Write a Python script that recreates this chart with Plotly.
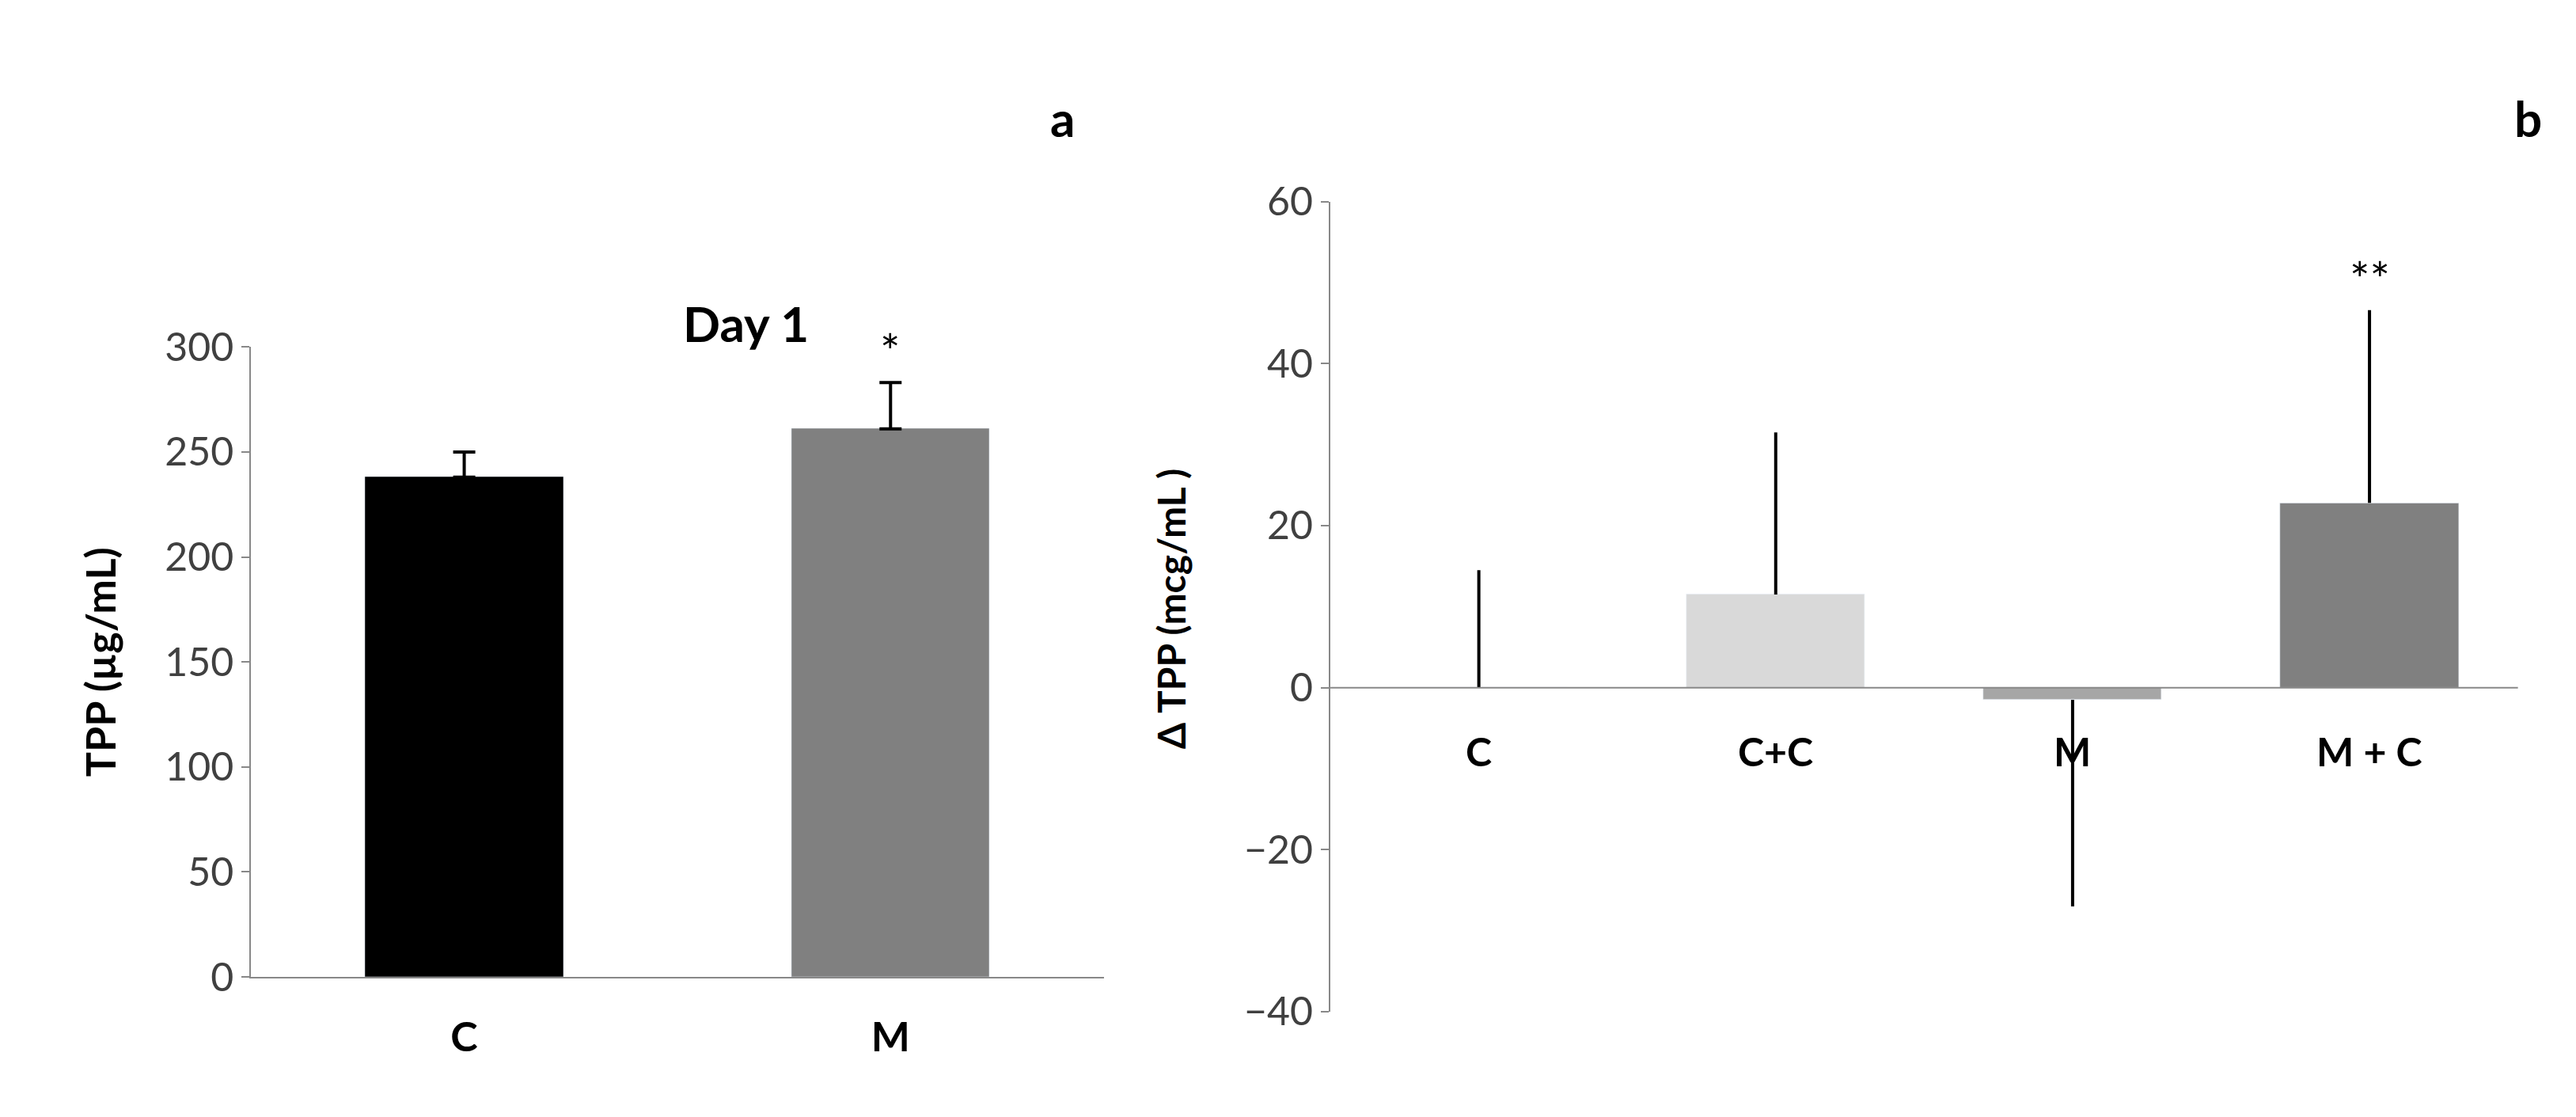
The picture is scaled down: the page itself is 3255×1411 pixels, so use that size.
import plotly.graph_objects as go

a_cats = ["C", "M"]
a_vals = [238, 261]
a_err = [12, 22]
a_colors = ["#000000", "#808080"]

b_cats = ["C", "C+C", "M", "M + C"]
b_vals = [0, 11.5, -1.5, 22.8]
b_err_plus = [14.5, 20, 0, 23.8]
b_err_minus = [0, 0, 25.5, 0]
b_colors = ["#808080", "#d9d9d9", "#a6a6a6", "#808080"]

F = "Lato"
fig = go.Figure()
fig.add_trace(go.Bar(x=a_cats, y=a_vals, marker_color=a_colors, width=0.465,
                     error_y=dict(type="data", array=a_err, arrayminus=[0, 0], color="black", thickness=4, width=14),
                     xaxis="x", yaxis="y", showlegend=False))
fig.add_trace(go.Bar(x=b_cats, y=b_vals, marker_color=b_colors, width=0.6,
                     error_y=dict(type="data", array=b_err_plus, arrayminus=b_err_minus, color="black", thickness=4, width=0),
                     xaxis="x2", yaxis="y2", showlegend=False))

axl = dict(showline=True, linecolor="#888888", linewidth=2, showgrid=False, zeroline=False)
fig.update_layout(
    width=3255, height=1411, margin=dict(l=0, r=0, t=0, b=0),
    plot_bgcolor="white", paper_bgcolor="white", font=dict(family=F, color="#404040", size=50),
    xaxis=dict(domain=[0.095, 0.426], anchor="y", tickfont=dict(size=52, color="black", family=F),
               tickprefix="<b>", ticksuffix="</b>", ticks="", ticklabelstandoff=30, **axl),
    yaxis=dict(domain=[0.1155, 0.705], range=[0, 300], dtick=50, ticks="outside", ticklen=10,
               tickcolor="#888888", tickwidth=2, **axl),
    xaxis2=dict(domain=[0.514, 0.975], anchor="y2", showticklabels=False, ticks="", showgrid=False,
                showline=False, zeroline=False),
    yaxis2=dict(domain=[0.083, 0.841], range=[-40, 60], dtick=20, ticks="outside", ticklen=10,
                tickcolor="#888888", tickwidth=2, anchor="x2", **axl),
    bargap=0,
)
fig.add_shape(type="line", xref="x2 domain", yref="y2", x0=0, x1=1, y0=0, y1=0,
              line=dict(color="#888888", width=2))
for c in b_cats:
    fig.add_annotation(x=c, y=0, xref="x2", yref="y2", yshift=-80, text="<b>%s</b>" % c,
                       showarrow=False, font=dict(size=50, color="black", family=F))
fig.add_annotation(x="M", y=a_vals[1] + a_err[1], xref="x", yref="y", yshift=40, text="*",
                   showarrow=False, font=dict(size=60, color="black", family=F))
fig.add_annotation(x="M + C", y=b_vals[3] + b_err_plus[3], xref="x2", yref="y2", yshift=40, text="**",
                   showarrow=False, font=dict(size=60, color="black", family=F))
fig.add_annotation(x=0.262, y=0.756, xref="paper", yref="paper", text="<b>Day 1</b>", showarrow=False,
                   font=dict(size=62, color="black", family=F))
fig.add_annotation(x=0.026, y=0.41, xref="paper", yref="paper", text="<b>TPP (µg/mL)</b>", textangle=-90,
                   showarrow=False, font=dict(size=52, color="black", family=F))
fig.add_annotation(x=0.452, y=0.46, xref="paper", yref="paper", text="<b>Δ TPP (mcg/mL )</b>", textangle=-90,
                   showarrow=False, font=dict(size=48, color="black", family=F))
fig.add_annotation(x=0.41, y=0.948, xref="paper", yref="paper", text="<b>a</b>", showarrow=False,
                   font=dict(size=62, color="black", family=F))
fig.add_annotation(x=0.985, y=0.948, xref="paper", yref="paper", text="<b>b</b>", showarrow=False,
                   font=dict(size=62, color="black", family=F))
fig.write_html("out.html")
